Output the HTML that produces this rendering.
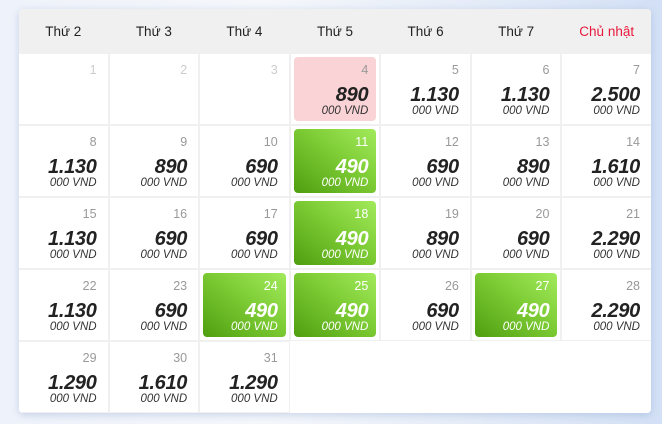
<!DOCTYPE html><html><head><meta charset="utf-8"><style>
body{margin:0;width:662px;height:424px;overflow:hidden;background:linear-gradient(90deg,#eef2fa 0%,#f5f7fb 40%,#e6edf8 70%,#d3e0f5 100%);font-family:"Liberation Sans","DejaVu Sans",sans-serif;position:relative}
.c{position:absolute;left:19px;top:9px;width:632px;height:404px;background:#fff;border-radius:4px;box-shadow:0 2px 8px rgba(120,150,200,.35);overflow:hidden}
.h{height:44px;background:#f0f0f0;display:grid;grid-template-columns:repeat(7,1fr);gap:2px;align-items:center;text-align:center;font-size:13.5px;color:#222}
.g{display:grid;grid-template-columns:repeat(7,1fr);grid-auto-rows:70px;gap:2px;margin-top:1px}
.d{box-shadow:0 0 0 1px #f0f0f0;position:relative;background:#fff}
.i{position:absolute;left:3px;right:3px;top:3px;bottom:3px;border-radius:4px}
.n{position:absolute;right:11px;top:9px;font-size:12.5px;color:#999}
.p{position:absolute;right:11px;top:30px;font-size:20px;font-weight:bold;font-style:italic;color:#222;letter-spacing:-.3px}
.v{position:absolute;right:11px;top:51px;font-size:11.5px;font-style:italic;color:#333}
.dis .n{color:#ccc}
.r .i{background:#f9d3d5}
.gr .i{background:linear-gradient(to top right,#4f9e10 0%,#7dcc35 55%,#a2ea5c 100%)}
.gr .n,.gr .p,.gr .v{color:#fff}
</style></head><body><div class="c">
<div class="h"><div>Thứ 2</div><div>Thứ 3</div><div>Thứ 4</div><div>Thứ 5</div><div>Thứ 6</div><div>Thứ 7</div><div style="color:#e8193c">Chủ nhật</div></div>
<div class="g">
<div class="d dis"><span class="n">1</span></div>
<div class="d dis"><span class="n">2</span></div>
<div class="d dis"><span class="n">3</span></div>
<div class="d r"><div class="i"></div><span class="n">4</span><span class="p">890</span><span class="v">000 VND</span></div>
<div class="d"><span class="n">5</span><span class="p">1.130</span><span class="v">000 VND</span></div>
<div class="d"><span class="n">6</span><span class="p">1.130</span><span class="v">000 VND</span></div>
<div class="d"><span class="n">7</span><span class="p">2.500</span><span class="v">000 VND</span></div>
<div class="d"><span class="n">8</span><span class="p">1.130</span><span class="v">000 VND</span></div>
<div class="d"><span class="n">9</span><span class="p">890</span><span class="v">000 VND</span></div>
<div class="d"><span class="n">10</span><span class="p">690</span><span class="v">000 VND</span></div>
<div class="d gr"><div class="i"></div><span class="n">11</span><span class="p">490</span><span class="v">000 VND</span></div>
<div class="d"><span class="n">12</span><span class="p">690</span><span class="v">000 VND</span></div>
<div class="d"><span class="n">13</span><span class="p">890</span><span class="v">000 VND</span></div>
<div class="d"><span class="n">14</span><span class="p">1.610</span><span class="v">000 VND</span></div>
<div class="d"><span class="n">15</span><span class="p">1.130</span><span class="v">000 VND</span></div>
<div class="d"><span class="n">16</span><span class="p">690</span><span class="v">000 VND</span></div>
<div class="d"><span class="n">17</span><span class="p">690</span><span class="v">000 VND</span></div>
<div class="d gr"><div class="i"></div><span class="n">18</span><span class="p">490</span><span class="v">000 VND</span></div>
<div class="d"><span class="n">19</span><span class="p">890</span><span class="v">000 VND</span></div>
<div class="d"><span class="n">20</span><span class="p">690</span><span class="v">000 VND</span></div>
<div class="d"><span class="n">21</span><span class="p">2.290</span><span class="v">000 VND</span></div>
<div class="d"><span class="n">22</span><span class="p">1.130</span><span class="v">000 VND</span></div>
<div class="d"><span class="n">23</span><span class="p">690</span><span class="v">000 VND</span></div>
<div class="d gr"><div class="i"></div><span class="n">24</span><span class="p">490</span><span class="v">000 VND</span></div>
<div class="d gr"><div class="i"></div><span class="n">25</span><span class="p">490</span><span class="v">000 VND</span></div>
<div class="d"><span class="n">26</span><span class="p">690</span><span class="v">000 VND</span></div>
<div class="d gr"><div class="i"></div><span class="n">27</span><span class="p">490</span><span class="v">000 VND</span></div>
<div class="d"><span class="n">28</span><span class="p">2.290</span><span class="v">000 VND</span></div>
<div class="d"><span class="n">29</span><span class="p">1.290</span><span class="v">000 VND</span></div>
<div class="d"><span class="n">30</span><span class="p">1.610</span><span class="v">000 VND</span></div>
<div class="d"><span class="n">31</span><span class="p">1.290</span><span class="v">000 VND</span></div>
</div></div></body></html>
